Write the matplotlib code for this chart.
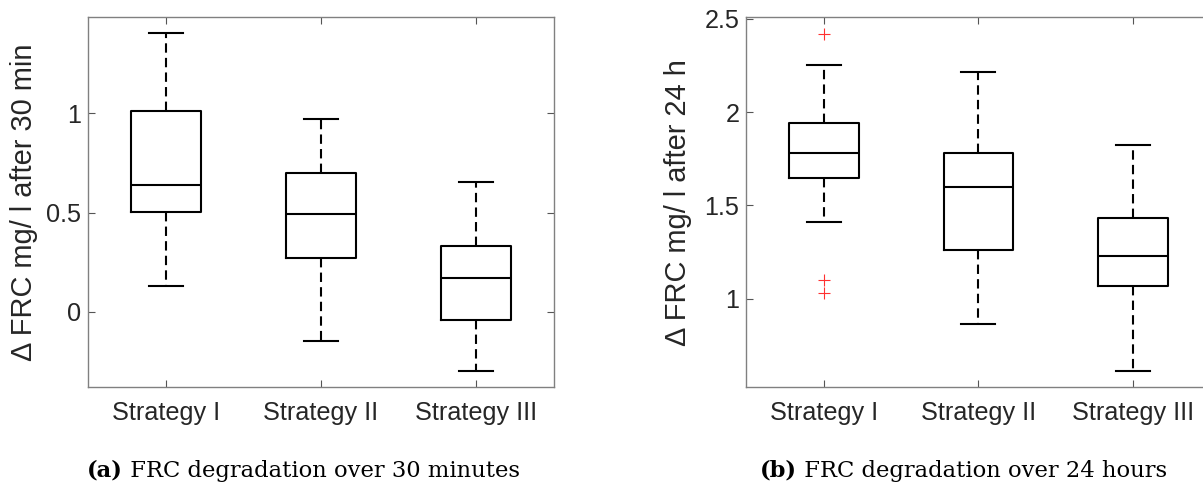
import matplotlib
matplotlib.use("Agg")
import matplotlib.pyplot as plt

categories = ["Strategy I", "Strategy II", "Strategy III"]

# Panel (a): change in FRC after 30 min
a_whislo = [0.131, -0.148, -0.299]
a_q1 = [0.503, 0.272, -0.042]
a_med = [0.637, 0.491, 0.171]
a_q3 = [1.012, 0.701, 0.331]
a_whishi = [1.404, 0.973, 0.653]
a_fliers = [[], [], []]
a_yticks = [0, 0.5, 1]
a_ylim = (-0.381, 1.485)

# Panel (b): change in FRC after 24 h
b_whislo = [1.410, 0.863, 0.614]
b_q1 = [1.646, 1.261, 1.070]
b_med = [1.780, 1.597, 1.229]
b_q3 = [1.944, 1.780, 1.434]
b_whishi = [2.253, 2.214, 1.824]
b_fliers = [[2.421, 1.099, 1.029], [], []]
b_yticks = [1, 1.5, 2, 2.5]
b_ylim = (0.525, 2.509)

ylabels = ["\u0394 FRC mg/ l after 30 min", "\u0394 FRC mg/ l after 24 h"]
captions = [("(a)", " FRC degradation over 30 minutes"),
            ("(b)", " FRC degradation over 24 hours")]

plt.rcParams['font.family'] = ['Liberation Sans', 'DejaVu Sans']

fig = plt.figure(figsize=(12.03, 4.84), dpi=100)
axA = fig.add_axes([0.0732, 0.1998, 0.3871, 0.7645])
axB = fig.add_axes([0.6204, 0.1998, 0.3859, 0.7645])

TXT = '#262626'

def draw(ax, wl, q1, med, q3, wh, fl, yticks, ylim, ylabel, labx):
    stats = []
    for i in range(len(categories)):
        stats.append(dict(whislo=wl[i], q1=q1[i], med=med[i], q3=q3[i],
                          whishi=wh[i], fliers=fl[i], label=categories[i]))
    ax.bxp(stats, positions=[1, 2, 3], widths=0.45, showfliers=True,
           boxprops=dict(color='black', linewidth=1.5),
           medianprops=dict(color='black', linewidth=1.5),
           whiskerprops=dict(color='black', linewidth=1.5, linestyle=(0, (4.5, 2.5))),
           capprops=dict(color='black', linewidth=1.5),
           capwidths=0.22,
           flierprops=dict(marker='+', markeredgecolor='#ff3030', markersize=8,
                           markeredgewidth=0.8, linestyle='none'))
    ax.set_xlim(0.5, 3.5)
    ax.set_ylim(*ylim)
    ax.set_yticks(yticks)
    ax.set_yticklabels([f"{t:g}" for t in yticks])
    ax.tick_params(direction='in', length=5, width=0.8, color='#555555',
                   labelsize=18.2, labelcolor=TXT, top=True, right=True, pad=5)
    ax.tick_params(axis='x', pad=10)
    for s in ax.spines.values():
        s.set_color('#808080')
        s.set_linewidth(1.0)
    ax.set_ylabel(ylabel, fontsize=20.9, color=TXT)
    ax.yaxis.set_label_coords(labx, 0.5)

draw(axA, a_whislo, a_q1, a_med, a_q3, a_whishi, a_fliers, a_yticks, a_ylim, ylabels[0], -0.107)
draw(axB, b_whislo, b_q1, b_med, b_q3, b_whishi, b_fliers, b_yticks, b_ylim, ylabels[1], -0.117)

fig.canvas.draw()
r = fig.canvas.get_renderer()
for (bold, rest), x0 in zip(captions, [87, 760]):
    t1 = fig.text(x0 / 1203, 1 - 477 / 484, bold, fontsize=16.3, fontweight='bold',
                  family='DejaVu Serif', ha='left', va='baseline')
    bb = t1.get_window_extent(r)
    fig.text(bb.x1 / 1203, 1 - 477 / 484, rest, fontsize=16.3,
             family='DejaVu Serif', ha='left', va='baseline')

fig.savefig("out.png", dpi=100)
